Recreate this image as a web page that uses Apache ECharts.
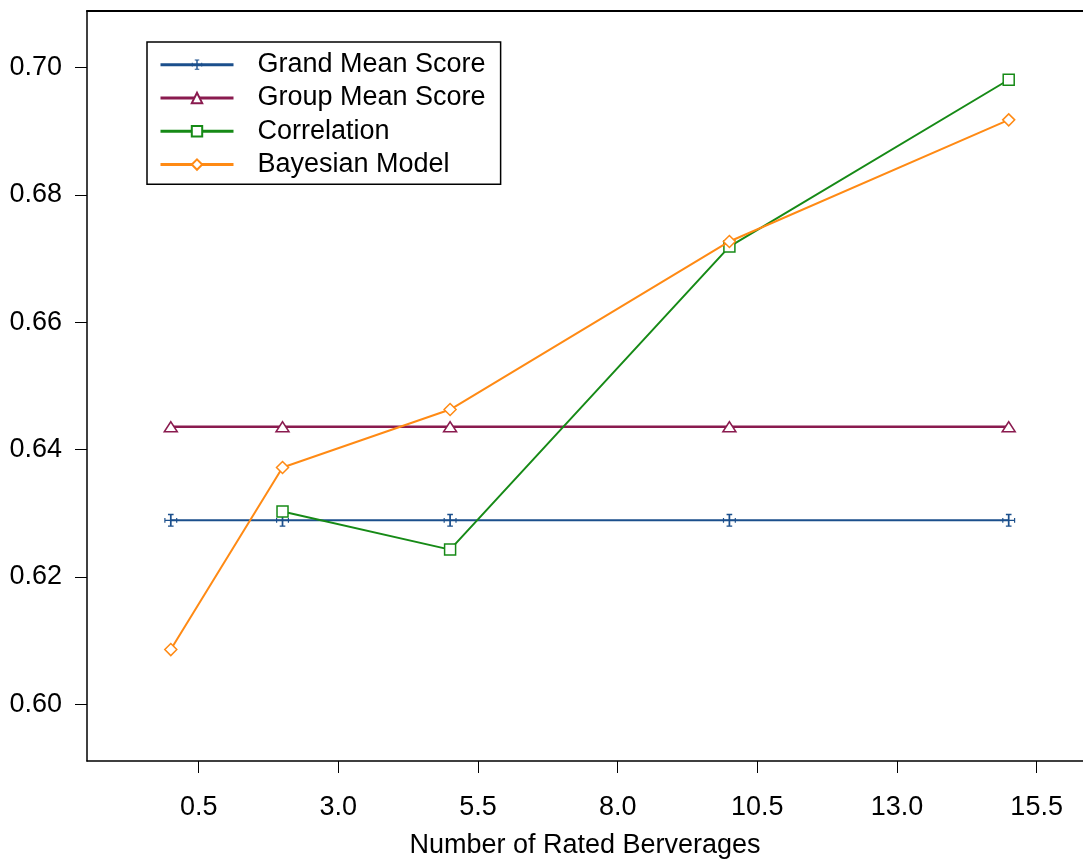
<!DOCTYPE html>
<html>
<head>
<meta charset="utf-8">
<script src="https://cdn.jsdelivr.net/npm/echarts@6/dist/echarts.min.js"></script>
<style>
html,body{margin:0;padding:0;background:#fff;}
#chart{width:1083px;height:863px;}
</style>
</head>
<body>
<div id="chart"></div>
<script>
// ---- data ----
const xValues = [0, 2, 5, 10, 15];
const grandMean = [0.6289, 0.6289, 0.6289, 0.6289, 0.6289];
const groupMean = [0.6436, 0.6436, 0.6436, 0.6436, 0.6436];
const correlationX = [2, 5, 10, 15];
const correlation = [0.6303, 0.6243, 0.6719, 0.6981];
const bayesian = [0.6086, 0.6372, 0.6463, 0.6727, 0.6918];
const xTicks = [0.5, 3.0, 5.5, 8.0, 10.5, 13.0, 15.5];
const yTicks = [0.60, 0.62, 0.64, 0.66, 0.68, 0.70];
const seriesNames = ['Grand Mean Score', 'Group Mean Score', 'Correlation', 'Bayesian Model'];
const xTitle = 'Number of Rated Berverages';

const pair = (xs, ys) => xs.map((x, i) => [x, ys[i]]);

const C_BLUE = '#1b4f8c';
const C_MAROON = '#8a1b4f';
const C_GREEN = '#168a16';
const C_ORANGE = '#ff8a14';
const FONT = 'Liberation Sans, Arial, sans-serif';

const errSymbol = 'path://M0 5.4H12V6.6H0Z M0 3.8H1.1V8.2H0Z M10.9 3.8H12V8.2H10.9Z M5.2 0H6.8V12H5.2Z M3.4 0H8.6V1.3H3.4Z M3.4 10.7H8.6V12H3.4Z';
const triSymbol = 'path://M0 10L6 0L12 10Z';

const chart = echarts.init(document.getElementById('chart'), null, {renderer: 'canvas'});
chart.setOption({
  backgroundColor: '#fff',
  animation: false,
  grid: {left: 87, right: 0, top: 11, bottom: 102, containLabel: false, outerBoundsMode: 'none'},
  legend: {
    data: seriesNames,
    orient: 'vertical',
    left: 147, top: 42,
    padding: [6, 15, 3, 12],
    itemGap: 0,
    itemWidth: 73,
    itemHeight: 13,
    borderColor: '#000',
    borderWidth: 1.5,
    lineStyle: {width: 3},
    textStyle: {fontFamily: FONT, fontSize: 27, color: '#000', lineHeight: 33.3, padding: [0, 0, 0, 19]}
  },
  xAxis: [{
    type: 'value',
    min: -1.5, max: 16.33,
    axisLine: {show: true, onZero: false, lineStyle: {color: '#000', width: 1.5}},
    axisTick: {show: true, length: 12, customValues: xTicks, lineStyle: {color: '#000', width: 1}},
    axisLabel: {show: true, customValues: xTicks, margin: 33, fontFamily: FONT, fontSize: 27, color: '#000',
      formatter: v => v.toFixed(1)},
    splitLine: {show: false},
    name: xTitle,
    nameLocation: 'middle',
    nameGap: 71,
    nameTextStyle: {fontFamily: FONT, fontSize: 27, color: '#000'}
  }, {
    type: 'value', position: 'top',
    min: -1.5, max: 16.33,
    axisLine: {show: true, onZero: false, lineStyle: {color: '#000', width: 2}},
    axisTick: {show: false}, axisLabel: {show: false}, splitLine: {show: false}
  }],
  yAxis: {
    type: 'value',
    min: 0.5911, max: 0.7089,
    axisLine: {show: true, onZero: false, lineStyle: {color: '#000', width: 1.5}},
    axisTick: {show: true, length: 12, customValues: yTicks, lineStyle: {color: '#000', width: 1}},
    axisLabel: {show: true, customValues: yTicks, margin: 25, fontFamily: FONT, fontSize: 27, color: '#000',
      formatter: v => v.toFixed(2)},
    splitLine: {show: false}
  },
  series: [
    {
      name: seriesNames[0], type: 'line', data: pair(xValues, grandMean),
      symbol: errSymbol, symbolSize: 13, symbolKeepAspect: true,
      lineStyle: {color: C_BLUE, width: 2},
      itemStyle: {color: C_BLUE, borderWidth: 0},
      z: 3
    },
    {
      name: seriesNames[1], type: 'line', data: pair(xValues, groupMean),
      symbol: triSymbol, symbolSize: [13, 10],
      lineStyle: {color: C_MAROON, width: 2.5},
      itemStyle: {color: '#fff', borderColor: C_MAROON, borderWidth: 1.5},
      z: 3
    },
    {
      name: seriesNames[2], type: 'line', data: pair(correlationX, correlation),
      symbol: 'rect', symbolSize: 11,
      lineStyle: {color: C_GREEN, width: 2},
      itemStyle: {color: '#fff', borderColor: C_GREEN, borderWidth: 1.5},
      z: 4
    },
    {
      name: seriesNames[3], type: 'line', data: pair(xValues, bayesian),
      symbol: 'diamond', symbolSize: 12,
      lineStyle: {color: C_ORANGE, width: 2},
      itemStyle: {color: '#fff', borderColor: C_ORANGE, borderWidth: 1.5},
      z: 5
    }
  ]
});
</script>
</body>
</html>
